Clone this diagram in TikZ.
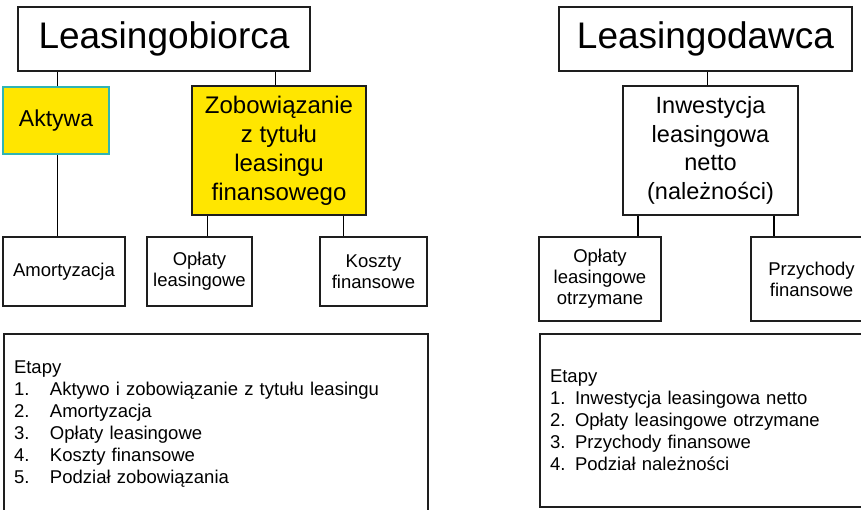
\documentclass[tikz,border=0pt]{standalone}
\usepackage{fontspec}
\setmainfont{Liberation Sans}
\usetikzlibrary{positioning,calc}
\definecolor{gelb}{HTML}{FFE600}
\definecolor{tealb}{HTML}{30B4B4}
\definecolor{edge}{HTML}{1E1E1E}

\begin{document}
\begin{tikzpicture}[x=1pt,y=-1pt,
   hd/.style={draw=edge,fill=white,line width=2pt,minimum height=64pt,inner sep=0pt,font=\fontsize{37}{44}\selectfont},
   yb/.style={draw=edge,fill=gelb,line width=2.6pt,minimum width=174pt,minimum height=129pt,inner sep=0pt,align=center,font=\fontsize{24}{29}\selectfont},
   wb/.style={draw=edge,fill=white,line width=2pt,minimum width=175pt,minimum height=129pt,inner sep=0pt,align=center,font=\fontsize{23.5}{28.5}\selectfont},
   bx/.style={draw=edge,fill=white,line width=2pt,inner sep=0pt,align=center,font=\fontsize{18.5}{21}\selectfont},
   note/.style={draw=edge,line width=2pt,inner xsep=10pt,inner ysep=0pt,align=left,font=\fontsize{18.5}{22}\selectfont},
   ln/.style={draw=black,line width=1pt},
   lnr/.style={draw=black,line width=2pt}]
  \useasboundingbox (0,0) rectangle (861,510);
  \clip (0,0) rectangle (861,510);
  % Leasingobiorca
  \node[hd,minimum width=292pt] (lb) at (164,39) {Leasingobiorca};
  \node[draw=tealb,fill=gelb,line width=1.6pt,minimum width=106pt,minimum height=67pt,inner sep=0pt,font=\fontsize{23}{28}\selectfont] (akt) at (56,120.5) {Aktywa};
  \node[yb] (zob) at (279,150.5) {Zobowiązanie\\z tytułu\\leasingu\\finansowego};
  \node[bx,minimum width=122pt,minimum height=69pt] (amo) at (64,271.5) {Amortyzacja};
  \node[bx,minimum width=105pt,minimum height=69pt] (opl) at (199.5,271.5) {Opłaty\\leasingowe};
  \node[bx,minimum width=107pt,minimum height=69pt] (kos) at (373.5,271.5) {Koszty\\finansowe};
  \node[note,text width=404pt,minimum height=180pt,anchor=north west] (etl) at (3,333) {Etapy\\
    \makebox[36pt][l]{1.}Aktywo i zobowiązanie z tytułu leasingu\\
    \makebox[36pt][l]{2.}Amortyzacja\\
    \makebox[36pt][l]{3.}Opłaty leasingowe\\
    \makebox[36pt][l]{4.}Koszty finansowe\\
    \makebox[36pt][l]{5.}Podział zobowiązania};
  \draw[ln] ([xshift=1]akt.north) -- ([xshift=1]akt.north |- lb.south);
  \draw[ln] ([xshift=1]akt.south) -- ([xshift=1]akt.south |- amo.north);
  \draw[ln] ([xshift=-4]zob.north) -- ([xshift=-4]zob.north |- lb.south);
  \draw[ln] ([xshift=-72]zob.south) -- ([xshift=-72]zob.south |- opl.north);
  \draw[ln] ([xshift=64]zob.south) -- ([xshift=64]zob.south |- kos.north);
  % Leasingodawca
  \node[hd,minimum width=293pt] (ld) at (705.5,39) {Leasingodawca};
  \node[wb] (inw) at (710.5,150.5) {Inwestycja\\leasingowa\\netto\\(należności)};
  \node[bx,minimum width=122pt,minimum height=84pt] (oto) at (600,279) {Opłaty\\leasingowe\\otrzymane};
  \node[bx,minimum width=121pt,minimum height=84pt] (prz) at (811.5,279) {Przychody\\finansowe};
  \node[note,text width=321pt,minimum height=173pt,anchor=north west] (etr) at (539,333) {Etapy\\
    \makebox[25pt][l]{1.}Inwestycja leasingowa netto\\
    \makebox[25pt][l]{2.}Opłaty leasingowe otrzymane\\
    \makebox[25pt][l]{3.}Przychody finansowe\\
    \makebox[25pt][l]{4.}Podział należności};
  \draw[ln] ([xshift=-3.5]inw.north) -- ([xshift=-3.5]inw.north |- ld.south);
  \draw[lnr] ([xshift=-72.5]inw.south) -- ([xshift=-72.5]inw.south |- oto.north);
  \draw[lnr] ([xshift=63.5]inw.south) -- ([xshift=63.5]inw.south |- prz.north);
\end{tikzpicture}
\end{document}
